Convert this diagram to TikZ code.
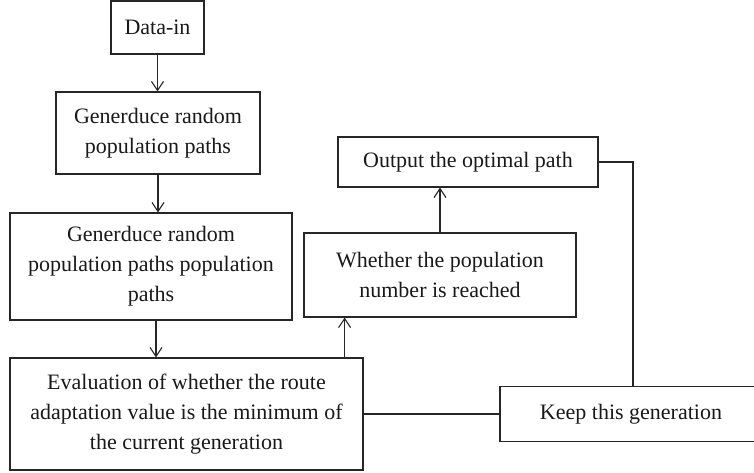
\documentclass[tikz,border=0pt]{standalone}
\usepackage{fontspec}
\setmainfont{Liberation Serif}
\usetikzlibrary{positioning, arrows.meta, calc}

\begin{document}
\begin{tikzpicture}[
  x=1pt, y=-1pt,
  box/.style={draw=black!85, line width=1.2pt, align=center, inner sep=0pt,
              font=\fontsize{22}{30}\selectfont, text=black!90},
  arr/.style={-{Straight Barb[length=9pt, width=12pt]}, line width=1.1pt, color=black!85},
  lnk/.style={line width=1.2pt, color=black!85}
]
\useasboundingbox (0,0) rectangle (754,473);

% Nodes
\node[box, minimum width=93pt, minimum height=53pt] (datain) at (157.5,27.5) {Data-in};
\node[box, minimum width=204pt, minimum height=82pt] (gen1) at (158,133) {Generduce random\\population paths};
\node[box, minimum width=282pt, minimum height=107pt] (gen2) at (151,266.5) {Generduce random\\population paths population\\paths};
\node[box, minimum width=353pt, minimum height=112pt] (evalb) at (186.5,414) {Evaluation of whether the route\\adaptation value is the minimum of\\the current generation};
\node[box, minimum width=272pt, minimum height=84pt] (whether) at (440,275) {Whether the population\\number is reached};
\node[box, minimum width=260pt, minimum height=50pt] (output) at (468,162) {Output the optimal path};
\node[box, minimum width=262pt, minimum height=55pt] (keep) at (631,414) {Keep this generation};

% Arrows
\draw[arr] (datain.south) -- (datain.south |- gen1.north);
\draw[arr] (gen1.south) -- (gen1.south |- gen2.north);
\draw[arr] ([xshift=5pt]gen2.south) -- ([xshift=5pt]gen2.south |- evalb.north);
\draw[arr] ([xshift=-19pt]evalb.north east) -- ([xshift=-19pt]evalb.north east |- whether.south);
\draw[arr] (whether.north) -- (whether.north |- output.south);

% Links
\draw[lnk] (evalb.east) -- (keep.west);
\draw[lnk] (output.east) -| ([xshift=2pt]keep.north);

\end{tikzpicture}
\end{document}
